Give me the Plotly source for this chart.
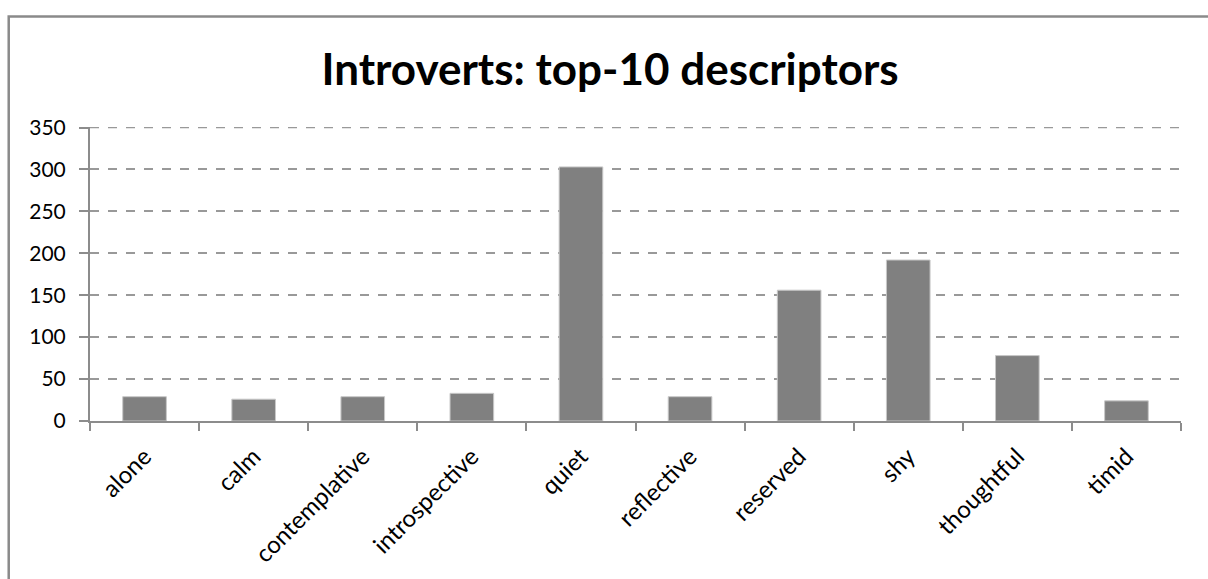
import plotly.graph_objects as go

# Descriptor counts for introverts
descriptors = ["alone", "calm", "contemplative", "introspective", "quiet",
               "reflective", "reserved", "shy", "thoughtful", "timid"]
counts = [29, 26, 29, 33, 303, 29, 156, 192, 78, 24]

y_ticks = [0, 50, 100, 150, 200, 250, 300, 350]

FONT = "Lato"
AXIS_GREY = "#8c8c8c"
GRID_GREY = "#999999"

fig = go.Figure(
    go.Bar(
        x=descriptors,
        y=counts,
        marker=dict(color="#808080", line=dict(color="#c8c8c8", width=1)),
        hoverinfo="x+y",
    )
)

fig.update_layout(
    width=1208,
    height=579,
    margin=dict(l=90, r=27, t=127, b=158),
    paper_bgcolor="white",
    plot_bgcolor="white",
    showlegend=False,
    bargap=0.6,
    title=dict(
        text="<b>Introverts: top-10 descriptors</b>",
        font=dict(family=FONT, size=44, color="black"),
        x=0.505,
        xref="container",
        xanchor="center",
        y=0.88,
        yref="container",
        yanchor="middle",
    ),
    xaxis=dict(
        type="category",
        showline=True,
        linecolor=AXIS_GREY,
        linewidth=2,
        ticks="outside",
        ticklen=8,
        tickcolor=AXIS_GREY,
        tickwidth=1.5,
        tickson="boundaries",
        tickangle=-45,
        tickfont=dict(family=FONT, size=24, color="black"),
        ticklabelstandoff=10,
        showgrid=False,
        mirror=False,
    ),
    yaxis=dict(
        range=[0, 350.6],
        tickvals=y_ticks,
        showline=True,
        linecolor=AXIS_GREY,
        linewidth=2,
        ticks="outside",
        ticklen=9,
        tickcolor=AXIS_GREY,
        tickwidth=1.5,
        tickfont=dict(family=FONT, size=21, color="black"),
        ticklabelstandoff=9,
        showgrid=True,
        gridcolor=GRID_GREY,
        gridwidth=1.5,
        griddash="dash",
        zeroline=False,
    ),
)

# Top gridline at the axis maximum
fig.add_shape(
    type="line",
    xref="paper", yref="y",
    x0=0, x1=1, y0=y_ticks[-1], y1=y_ticks[-1],
    line=dict(color=GRID_GREY, width=1.5, dash="dash"),
    layer="below",
)

# Chart frame around the whole drawing area
fig.add_shape(
    type="rect",
    xref="paper", yref="paper",
    x0=-0.0745, x1=1.2, y0=-0.8, y1=1.376,
    line=dict(color="#8a8a8a", width=2.5),
    fillcolor="rgba(0,0,0,0)",
    layer="above",
)

fig.write_html("out.html")
